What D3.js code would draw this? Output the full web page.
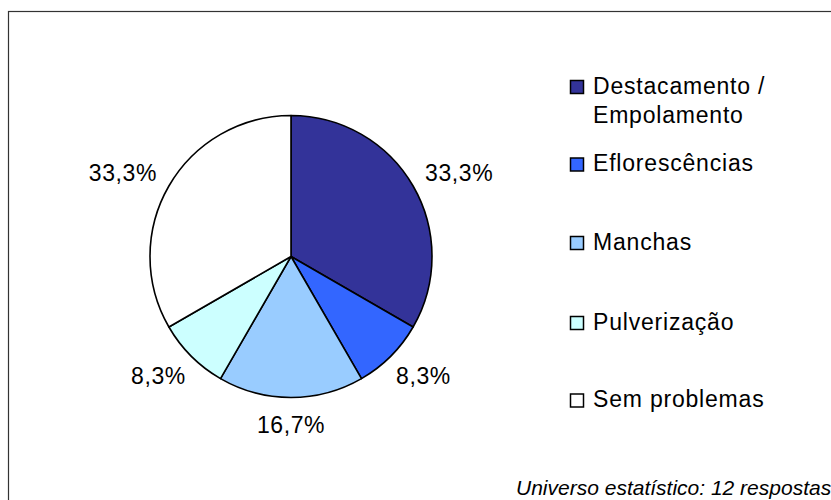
<!DOCTYPE html>
<html>
  <head>
    <meta charset="utf-8">
    <script src="https://d3js.org/d3.v7.min.js"></script>
    <style>
      body { margin: 0; background: #fff; }
      text { font-family: "Liberation Sans", Arial, sans-serif; fill: #000; }
    </style>
  </head>
  <body>
  <div id="chart"></div>
  <script type="text/javascript">

// data
var categories = ["Destacamento / Empolamento", "Eflorescências", "Manchas", "Pulverização", "Sem problemas"];
var values = [4, 1, 2, 1, 4];            // 12 respostas
var labels = ["33,3%", "8,3%", "16,7%", "8,3%", "33,3%"];
var colors = ["#333399", "#3366FF", "#99CCFF", "#CCFFFF", "#FFFFFF"];
var note = "Universo estatístico: 12 respostas";

var w = 831, h = 500;
var cx = 291, cy = 256.5, r = 141;

var svg = d3.select("#chart").append("svg")
    .attr("width", w)
    .attr("height", h);

// chart area border (runs off the right / bottom)
svg.append("rect")
    .attr("x", 8.5).attr("y", 11.5)
    .attr("width", 840).attr("height", 500)
    .attr("fill", "#fff")
    .attr("stroke", "#333")
    .attr("stroke-width", 1.2);

var pie = d3.pie().sort(null).value(function(d){ return d; });
var arcs = pie(values);

var arc = d3.arc().innerRadius(0).outerRadius(r);

var g = svg.append("g").attr("transform", "translate(" + cx + "," + cy + ")");

g.selectAll("path")
    .data(arcs)
  .enter().append("path")
    .attr("d", arc)
    .attr("fill", function(d,i){ return colors[i]; })
    .attr("stroke", "#000")
    .attr("stroke-width", 1.6)
    .attr("stroke-linejoin", "round");

// labels outside the pie, box pushed outward along the mid angle
var labelR = 160;
var fs = 23;
g.selectAll("text.lbl")
    .data(arcs)
  .enter().append("text")
    .attr("class", "lbl")
    .text(function(d,i){ return labels[i]; })
    .attr("font-size", fs + "px")
    .attr("letter-spacing", "0.6px")
    .each(function(d){
      var a = (d.startAngle + d.endAngle) / 2;
      var bw = this.getComputedTextLength();
      var bh = fs * 0.72;
      var x = labelR * Math.sin(a) + bw / 2 * Math.sin(a);
      var y = -labelR * Math.cos(a) - bh / 2 * Math.cos(a);
      d3.select(this)
        .attr("x", x)
        .attr("y", y + bh / 2)
        .attr("text-anchor", "middle");
    });

// legend
var legendY = [87, 164.5, 243, 323, 400.5];
var legend = svg.append("g").attr("transform", "translate(570,0)");

var items = legend.selectAll("g")
    .data(categories)
  .enter().append("g")
    .attr("transform", function(d,i){ return "translate(0," + legendY[i] + ")"; });

items.append("rect")
    .attr("x", 0.5).attr("y", -6.5)
    .attr("width", 13).attr("height", 13)
    .attr("fill", function(d,i){ return colors[i]; })
    .attr("stroke", "#000")
    .attr("stroke-width", 1.5);

items.append("text")
    .attr("font-size", "23px")
    .attr("letter-spacing", "0.8px")
    .each(function(d){
      var parts = d.indexOf(" / ") > 0 ? [d.split(" / ")[0] + " /", d.split(" / ")[1]] : [d];
      var t = d3.select(this);
      parts.forEach(function(p, k){
        t.append("tspan")
          .attr("x", 23)
          .attr("y", 6.5 + k * 29)
          .text(p);
      });
    });

svg.append("text")
    .attr("x", 516)
    .attr("y", 495)
    .attr("font-size", "21px")
    .attr("font-style", "italic")
    .text(note);

  </script>
  </body>
</html>
